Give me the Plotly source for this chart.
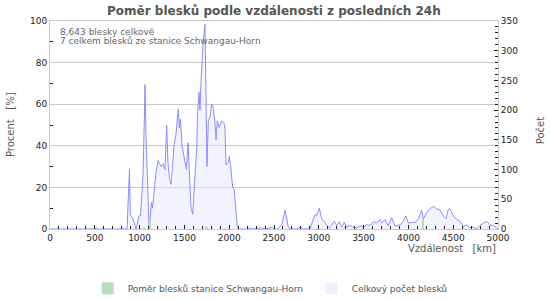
import plotly.graph_objects as go

# Total strike count by distance (right axis)
dist_km = [0, 500, 520, 540, 850, 860, 876, 887, 896, 910, 926, 943, 960, 977, 993, 1010, 1021, 1038,
           1055, 1060, 1071, 1083, 1094, 1105, 1116, 1133, 1144, 1161, 1183, 1205, 1222, 1239, 1261,
           1283, 1302, 1317, 1334, 1350, 1367, 1384, 1406, 1432, 1445, 1456, 1473, 1490, 1507, 1523,
           1540, 1557, 1574, 1593, 1607, 1624, 1637, 1648, 1663, 1674, 1685, 1700, 1711, 1730, 1741,
           1752, 1767, 1786, 1805, 1823, 1842, 1853, 1867, 1886, 1916, 1942, 1953, 1964, 1990, 2001,
           2017, 2039, 2057, 2073, 2090, 2104, 2200, 2230, 2260, 2320, 2360, 2400, 2450, 2480, 2500,
           2540, 2589, 2606, 2623, 2640, 2656, 2679, 2750, 2800, 2830, 2900, 2958, 2976, 3006, 3032,
           3061, 3088, 3117, 3144, 3173, 3200, 3229, 3256, 3284, 3311, 3348, 3385, 3423, 3460, 3497,
           3535, 3571, 3608, 3646, 3683, 3702, 3739, 3776, 3813, 3850, 3887, 3925, 3973, 3999, 4036,
           4074, 4110, 4148, 4166, 4204, 4241, 4278, 4315, 4353, 4390, 4420, 4445, 4464, 4501, 4539,
           4576, 4613, 4650, 4688, 4725, 4762, 4799, 4836, 4873, 4911, 4948, 4985, 5000]
count = [0, 0, 2, 0, 0, 0, 60, 100, 25, 20, 18, 8, 0, 10, 22, 22, 50, 90,
         200, 243, 160, 110, 30, 5, 15, 45, 35, 65, 95, 115, 110, 105, 110,
         100, 175, 110, 85, 75, 105, 140, 160, 202, 170, 185, 140, 125, 115, 100,
         145, 80, 35, 25, 70, 105, 135, 200, 230, 200, 248, 300, 318, 345, 252,
         105, 182, 189, 210, 203, 178, 150, 182, 171, 182, 178, 168, 108, 112, 122,
         105, 70, 66, 40, 4, 0, 0, 2, 0, 1, 2, 0, 2, 3, 0,
         0, 8, 22, 32, 20, 5, 0, 0, 3, 0, 0, 24, 22, 35, 17,
         13, 6, 2, 7, 13, 6, 12, 3, 11, 3, 6, 3, 2, 5, 3,
         7, 6, 12, 10, 16, 10, 16, 5, 19, 5, 6, 9, 22, 10, 11,
         11, 16, 32, 17, 27, 34, 38, 34, 32, 22, 17, 33, 34, 22, 16,
         13, 4, 7, 2, 3, 0, 6, 10, 13, 7, 6, 2, 0]

# Station ratio (left axis, percent)
station_km = [1050, 1115, 1750, 4165]
station_pct = [1, 4.5, 1, 5]

x_ticks = [0, 500, 1000, 1500, 2000, 2500, 3000, 3500, 4000, 4500, 5000]

FONT = "DejaVu Sans"
GRID = "#c8c8c8"

fig = go.Figure()
fig.add_trace(go.Scatter(
    x=dist_km, y=count, mode="lines", name="Celkový počet blesků",
    line=dict(color="#8c8cff", width=1), fill="tozeroy",
    fillcolor="rgba(228,228,250,0.45)", yaxis="y", showlegend=False))
fig.add_trace(go.Bar(
    x=station_km, y=station_pct, width=18, name="Poměr blesků stanice Schwangau-Horn",
    marker=dict(color="#b5e0b5", line=dict(width=0)), yaxis="y2"))
# legend entry for total count (square symbol)
fig.add_trace(go.Bar(
    x=[None], y=[None], name="Celkový počet blesků",
    marker=dict(color="#f0f0fd", line=dict(width=0)), yaxis="y2"))

fig.update_layout(
    width=550, height=300,
    margin=dict(l=50, r=52, t=21, b=71, autoexpand=False),
    paper_bgcolor="white", plot_bgcolor="white",
    font=dict(family=FONT, size=9, color="#222"),
    title=dict(text="<b>Poměr blesků podle vzdálenosti z posledních 24h</b>",
               x=0.498, xanchor="center", y=0.965, yanchor="middle",
               font=dict(family=FONT, size=12, color="#555")),
    bargap=0,
    xaxis=dict(range=[0, 5000], tickvals=x_ticks, ticks="inside", ticklen=4,
               tickcolor="#222", tickwidth=1,
               minor=dict(dtick=100, ticks="inside", ticklen=3, tickcolor="#222"),
               showgrid=False, showline=True, linecolor=GRID, mirror=True,
               zeroline=False, tickfont=dict(size=9, color="#222")),
    yaxis=dict(range=[0, 350], dtick=50, side="right", ticks="inside", ticklen=4,
               tickcolor="#222", minor=dict(dtick=10, ticks="inside", ticklen=3, tickcolor="#222"),
               showgrid=False, showline=True, linecolor=GRID, zeroline=False,
               tickfont=dict(size=9, color="#222")),
    yaxis2=dict(range=[0, 100], dtick=20, side="left", overlaying="y", ticks="inside",
                ticklen=0, minor=dict(dtick=10, ticks="inside", ticklen=3, tickcolor="#222"),
                showgrid=True, gridcolor=GRID, showline=True, linecolor=GRID,
                zeroline=False, tickfont=dict(size=9, color="#222")),
    legend=dict(orientation="h", x=0.084, xanchor="left", y=-0.215, yanchor="top",
                font=dict(size=9, color="#555"), entrywidth=179, itemwidth=30,
                traceorder="normal"),
    annotations=[
        dict(text="8,643 blesky celkově", xref="paper", yref="paper", x=0.018, y=0.948,
             xanchor="left", yanchor="middle", showarrow=False,
             font=dict(size=9, color="#666")),
        dict(text="7 celkem blesků ze stanice Schwangau-Horn", xref="paper", yref="paper",
             x=0.018, y=0.905, xanchor="left", yanchor="middle", showarrow=False,
             font=dict(size=9, color="#666")),
        dict(text="Vzdálenost   [km]", xref="paper", yref="paper", x=1.0, y=-0.06,
             xanchor="right", yanchor="top", showarrow=False,
             font=dict(size=10, color="#555")),
        dict(text="Procent   [%]", xref="paper", yref="paper", x=0, xshift=-40, y=0.5,
             textangle=-90, xanchor="center", yanchor="middle", showarrow=False,
             font=dict(size=10, color="#555")),
        dict(text="Počet", xref="paper", yref="paper", x=1, xshift=42, y=0.47,
             textangle=-90, xanchor="center", yanchor="middle", showarrow=False,
             font=dict(size=10, color="#555")),
    ],
)

fig.write_html("out.html")
